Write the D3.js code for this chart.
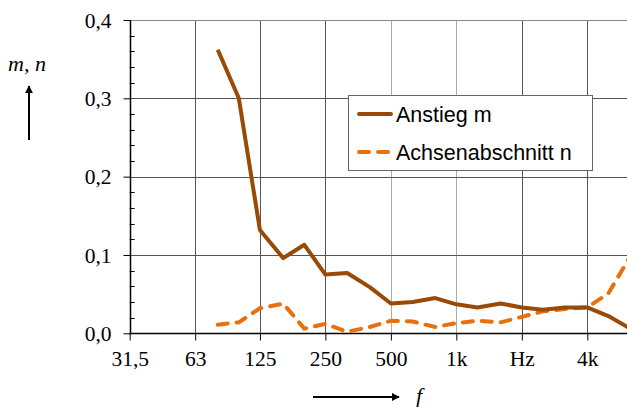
<!DOCTYPE html>
<html>
<head>
<meta charset="utf-8">
<script src="https://cdnjs.cloudflare.com/ajax/libs/d3/7.8.5/d3.min.js"></script>
<style>
body { margin: 0; background: #fff; }
svg { display: block; }
</style>
</head>
<body>
<div id="chart"></div>
<script>
var width = 627,
    height = 407;

// third-octave centre frequencies
var freqs = [80, 100, 125, 160, 200, 250, 315, 400, 500, 630, 800, 1000, 1250, 1600, 2000, 2500, 3150, 4000, 5000, 6300];
// Anstieg m
var mValues = [0.362, 0.300, 0.132, 0.096, 0.113, 0.075, 0.077, 0.059, 0.038, 0.040, 0.045, 0.037, 0.033, 0.038, 0.033, 0.030, 0.033, 0.033, 0.022, 0.006];
// Achsenabschnitt n
var nValues = [0.011, 0.014, 0.032, 0.038, 0.006, 0.012, 0.002, 0.008, 0.016, 0.015, 0.008, 0.013, 0.016, 0.014, 0.021, 0.028, 0.031, 0.033, 0.051, 0.098];

var xTicks = [31.5, 63, 125, 250, 500, 1000, 2000, 4000];
var xTickLabels = ["31,5", "63", "125", "250", "500", "1k", "Hz", "4k"];
var yTicks = [0, 0.1, 0.2, 0.3, 0.4];
var seriesNames = ["Anstieg m", "Achsenabschnitt n"];

var plotLeft = 129.7, plotTop = 20, plotBottom = 333.3;
var serif = "Liberation Serif, Times New Roman, serif";

var svg = d3.select("#chart").append("svg")
    .attr("width", width)
    .attr("height", height);

var x = d3.scaleLog()
    .domain([31.5, 4000])
    .range([plotLeft, 587.3]);

var y = d3.scaleLinear()
    .domain([0, 0.4])
    .range([plotBottom, plotTop]);

var defs = svg.append("defs");
defs.append("clipPath")
    .attr("id", "clip")
    .append("rect")
    .attr("x", plotLeft).attr("y", 0)
    .attr("width", width - plotLeft).attr("height", height);

// grid
svg.selectAll(".vgrid")
    .data(xTicks.slice(1))
    .enter().append("line")
    .attr("x1", function(d) { return Math.round(x(d)) + 0.5; })
    .attr("x2", function(d) { return Math.round(x(d)) + 0.5; })
    .attr("y1", plotTop).attr("y2", plotBottom)
    .attr("stroke", function(d) { return (d == 500 || d == 1000) ? "#aaa" : "#555"; })
    .attr("stroke-width", 1);

svg.selectAll(".hgrid")
    .data(yTicks.slice(1))
    .enter().append("line")
    .attr("x1", plotLeft).attr("x2", width)
    .attr("y1", function(d) { return Math.round(y(d)) + 0.5; })
    .attr("y2", function(d) { return Math.round(y(d)) + 0.5; })
    .attr("stroke", function(d) { return d == 0.4 ? "#888" : "#555"; })
    .attr("stroke-width", 1);

// y axis
var yAxis = d3.axisLeft(y)
    .tickValues(yTicks)
    .tickSize(7)
    .tickPadding(12)
    .tickFormat(function(d) { return d3.format(".1f")(d).replace(".", ","); });

var gy = svg.append("g")
    .attr("transform", "translate(" + (Math.round(plotLeft) + 0.5) + ",0)")
    .call(yAxis);
gy.select(".domain").remove();
gy.selectAll("line").attr("stroke", "#000");
gy.selectAll("text")
    .attr("font-family", serif)
    .attr("font-size", 21.5)
    .attr("fill", "#000")
    .attr("dy", "0.34em");

// minor y ticks, pointing inside
var minor = d3.range(0.02, 0.4, 0.02).filter(function(d) { return Math.abs(d * 10 - Math.round(d * 10)) > 0.01; });
svg.selectAll(".minor")
    .data(minor)
    .enter().append("line")
    .attr("x1", plotLeft).attr("x2", plotLeft + 5)
    .attr("y1", function(d) { return Math.round(y(d)) + 0.5; })
    .attr("y2", function(d) { return Math.round(y(d)) + 0.5; })
    .attr("stroke", "#000");

svg.append("line")
    .attr("x1", Math.round(plotLeft) + 0.5).attr("x2", Math.round(plotLeft) + 0.5)
    .attr("y1", plotTop).attr("y2", plotBottom + 1)
    .attr("stroke", "#000").attr("stroke-width", 1.5);

// x axis
var xAxis = d3.axisBottom(x)
    .tickValues(xTicks)
    .tickSize(7)
    .tickPadding(10)
    .tickFormat(function(d, i) { return xTickLabels[i]; });

var gx = svg.append("g")
    .attr("transform", "translate(0," + (Math.round(plotBottom) + 0.5) + ")")
    .call(xAxis);
gx.select(".domain").remove();
gx.selectAll("line").attr("stroke", "#000");
gx.selectAll("text")
    .attr("font-family", serif)
    .attr("font-size", 21.5)
    .attr("fill", "#000");

svg.append("line")
    .attr("x1", plotLeft).attr("x2", width)
    .attr("y1", Math.round(plotBottom) + 0.5).attr("y2", Math.round(plotBottom) + 0.5)
    .attr("stroke", "#000").attr("stroke-width", 1.5);

// lines
var line = d3.line()
    .x(function(d, i) { return x(freqs[i]); })
    .y(function(d) { return y(d); });

var plot = svg.append("g").attr("clip-path", "url(#clip)");

plot.append("path")
    .datum(nValues)
    .attr("d", line)
    .attr("fill", "none")
    .attr("stroke", "#e8700e")
    .attr("stroke-width", 4)
    .attr("stroke-dasharray", "10,9")
    .attr("stroke-linecap", "round");

plot.append("path")
    .datum(mValues)
    .attr("d", line)
    .attr("fill", "none")
    .attr("stroke", "#9a4a07")
    .attr("stroke-width", 4)
    .attr("stroke-linejoin", "round");

// legend
var legend = svg.append("g");
legend.append("rect")
    .attr("x", 348.5).attr("y", 95.5)
    .attr("width", 244).attr("height", 75)
    .attr("fill", "#fff")
    .attr("stroke", "#666");

legend.append("line")
    .attr("x1", 359).attr("x2", 391)
    .attr("y1", 114).attr("y2", 114)
    .attr("stroke", "#9a4a07").attr("stroke-width", 4).attr("stroke-linecap", "round");
legend.append("line")
    .attr("x1", 359).attr("x2", 390)
    .attr("y1", 152).attr("y2", 152)
    .attr("stroke", "#e8700e").attr("stroke-width", 4)
    .attr("stroke-dasharray", "10,9").attr("stroke-linecap", "round");

legend.selectAll(".legtext")
    .data(seriesNames)
    .enter().append("text")
    .attr("x", 396)
    .attr("y", function(d, i) { return 122 + i * 38; })
    .attr("font-family", "Liberation Sans, Arial, sans-serif")
    .attr("font-size", 21.5)
    .attr("fill", "#000")
    .text(function(d) { return d; });

// axis titles
svg.append("text")
    .attr("x", 27).attr("y", 71)
    .attr("text-anchor", "middle")
    .attr("font-family", serif)
    .attr("font-style", "italic")
    .attr("font-size", 22)
    .text("m, n");

defs.append("marker")
    .attr("id", "arrow")
    .attr("viewBox", "0 0 10 10")
    .attr("refX", 9).attr("refY", 5)
    .attr("markerWidth", 4).attr("markerHeight", 4)
    .attr("orient", "auto")
    .append("path")
    .attr("d", "M0,0L10,5L0,10z")
    .attr("fill", "#000");

svg.append("line")
    .attr("x1", 29).attr("x2", 29)
    .attr("y1", 140).attr("y2", 86)
    .attr("stroke", "#000").attr("stroke-width", 2)
    .attr("marker-end", "url(#arrow)");

svg.append("line")
    .attr("x1", 313).attr("x2", 399)
    .attr("y1", 397).attr("y2", 397)
    .attr("stroke", "#000").attr("stroke-width", 2)
    .attr("marker-end", "url(#arrow)");

svg.append("text")
    .attr("x", 419).attr("y", 403)
    .attr("text-anchor", "middle")
    .attr("font-family", serif)
    .attr("font-style", "italic")
    .attr("font-size", 22)
    .text("f");
</script>
</body>
</html>
